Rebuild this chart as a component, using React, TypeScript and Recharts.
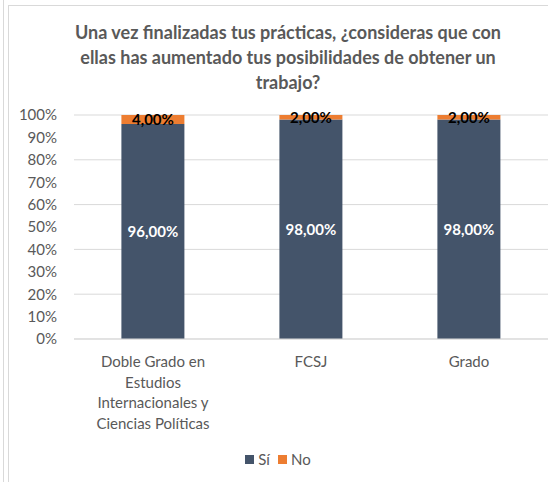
import { BarChart, Bar, XAxis, YAxis, CartesianGrid, Legend, LabelList } from 'recharts'

const categories = ['Doble Grado en\nEstudios\nInternacionales y\nCiencias Políticas', 'FCSJ', 'Grado']
const si = [96, 98, 98]
const no = [4, 2, 2]
const yTicks = [0, 10, 20, 30, 40, 50, 60, 70, 80, 90, 100]
const titleLines = [
  'Una vez finalizadas tus prácticas, ¿consideras que con',
  'ellas has aumentado tus posibilidades de obtener un',
  'trabajo?',
]

const data = categories.map((name, i) => ({ name, si: si[i], no: no[i] }))

const FONT = 'Lato, "Open Sans", sans-serif'
const GREY = '#595959'

const fmt = (v: number) => v.toFixed(2).replace('.', ',') + '%'

function CategoryTick({ x, y, payload }: any) {
  const lines = String(payload.value).split('\n')
  return (
    <g>
      {lines.map((l, i) => (
        <text key={i} x={x} y={y + 26 + i * 20.5} textAnchor="middle" fill={GREY} fontSize={15} fontFamily={FONT}>
          {l}
        </text>
      ))}
    </g>
  )
}

function LegendBox() {
  const items = [
    { label: 'Sí', color: '#44546A' },
    { label: 'No', color: '#ED7D31' },
  ]
  return (
    <div style={{ display: 'flex', justifyContent: 'center', paddingLeft: 16, marginTop: -2, fontFamily: FONT, fontSize: 15, color: GREY }}>
      {items.map((it) => (
        <span key={it.label} style={{ display: 'flex', alignItems: 'center', marginRight: 8 }}>
          <span style={{ width: 9, height: 9, background: it.color, display: 'inline-block', marginRight: 4 }} />
          {it.label}
        </span>
      ))}
    </div>
  )
}

export default function App() {
  return (
    <div style={{ position: 'absolute', left: 0, top: 0, width: 548, height: 482, overflow: 'hidden', background: '#fff' }}>
      <div style={{ position: 'absolute', left: 3, top: 0, width: 1, height: 482, background: '#d9d9d9' }} />
      <div style={{ position: 'absolute', left: 8, top: 5, width: 600, height: 600, borderLeft: '1px solid #d9d9d9', borderTop: '1px solid #d9d9d9' }} />
      <div
        style={{
          position: 'absolute', left: 38, width: 500, top: 20, textAlign: 'center', whiteSpace: 'nowrap',
          fontFamily: FONT, fontWeight: 'bold', fontSize: 18, lineHeight: '25px', color: GREY,
        }}
      >
        {titleLines.map((t) => (
          <div key={t}>{t}</div>
        ))}
      </div>
      <div style={{ position: 'absolute', left: 0, top: 0 }}>
        <BarChart width={548} height={482} data={data} margin={{ top: 115, right: 0, bottom: 0, left: 0 }} barCategoryGap="30%">
          <CartesianGrid vertical={false} stroke="#d9d9d9" />
          <XAxis dataKey="name" axisLine={{ stroke: '#d9d9d9' }} tickLine={false} tickSize={0} height={113} tick={<CategoryTick />} interval={0} />
          <YAxis
            width={74}
            domain={[0, 100]}
            ticks={yTicks}
            tickFormatter={(v: number) => `${v}%`}
            axisLine={false}
            tickLine={false}
            tickSize={0}
            tickMargin={17}
            tick={{ fill: GREY, fontSize: 15, fontFamily: FONT }}
          />
          <Legend verticalAlign="bottom" height={30} content={<LegendBox />} />
          <Bar dataKey="si" name="Sí" stackId="a" fill="#44546A" isAnimationActive={false}>
            <LabelList dataKey="si" position="center" formatter={fmt} fill="#ffffff" fontWeight="bold" fontSize={15} fontFamily={FONT} />
          </Bar>
          <Bar dataKey="no" name="No" stackId="a" fill="#ED7D31" isAnimationActive={false}>
            <LabelList dataKey="no" position="center" formatter={fmt} fill="#000000" fontWeight="bold" fontSize={15} fontFamily={FONT} />
          </Bar>
        </BarChart>
      </div>
    </div>
  )
}
